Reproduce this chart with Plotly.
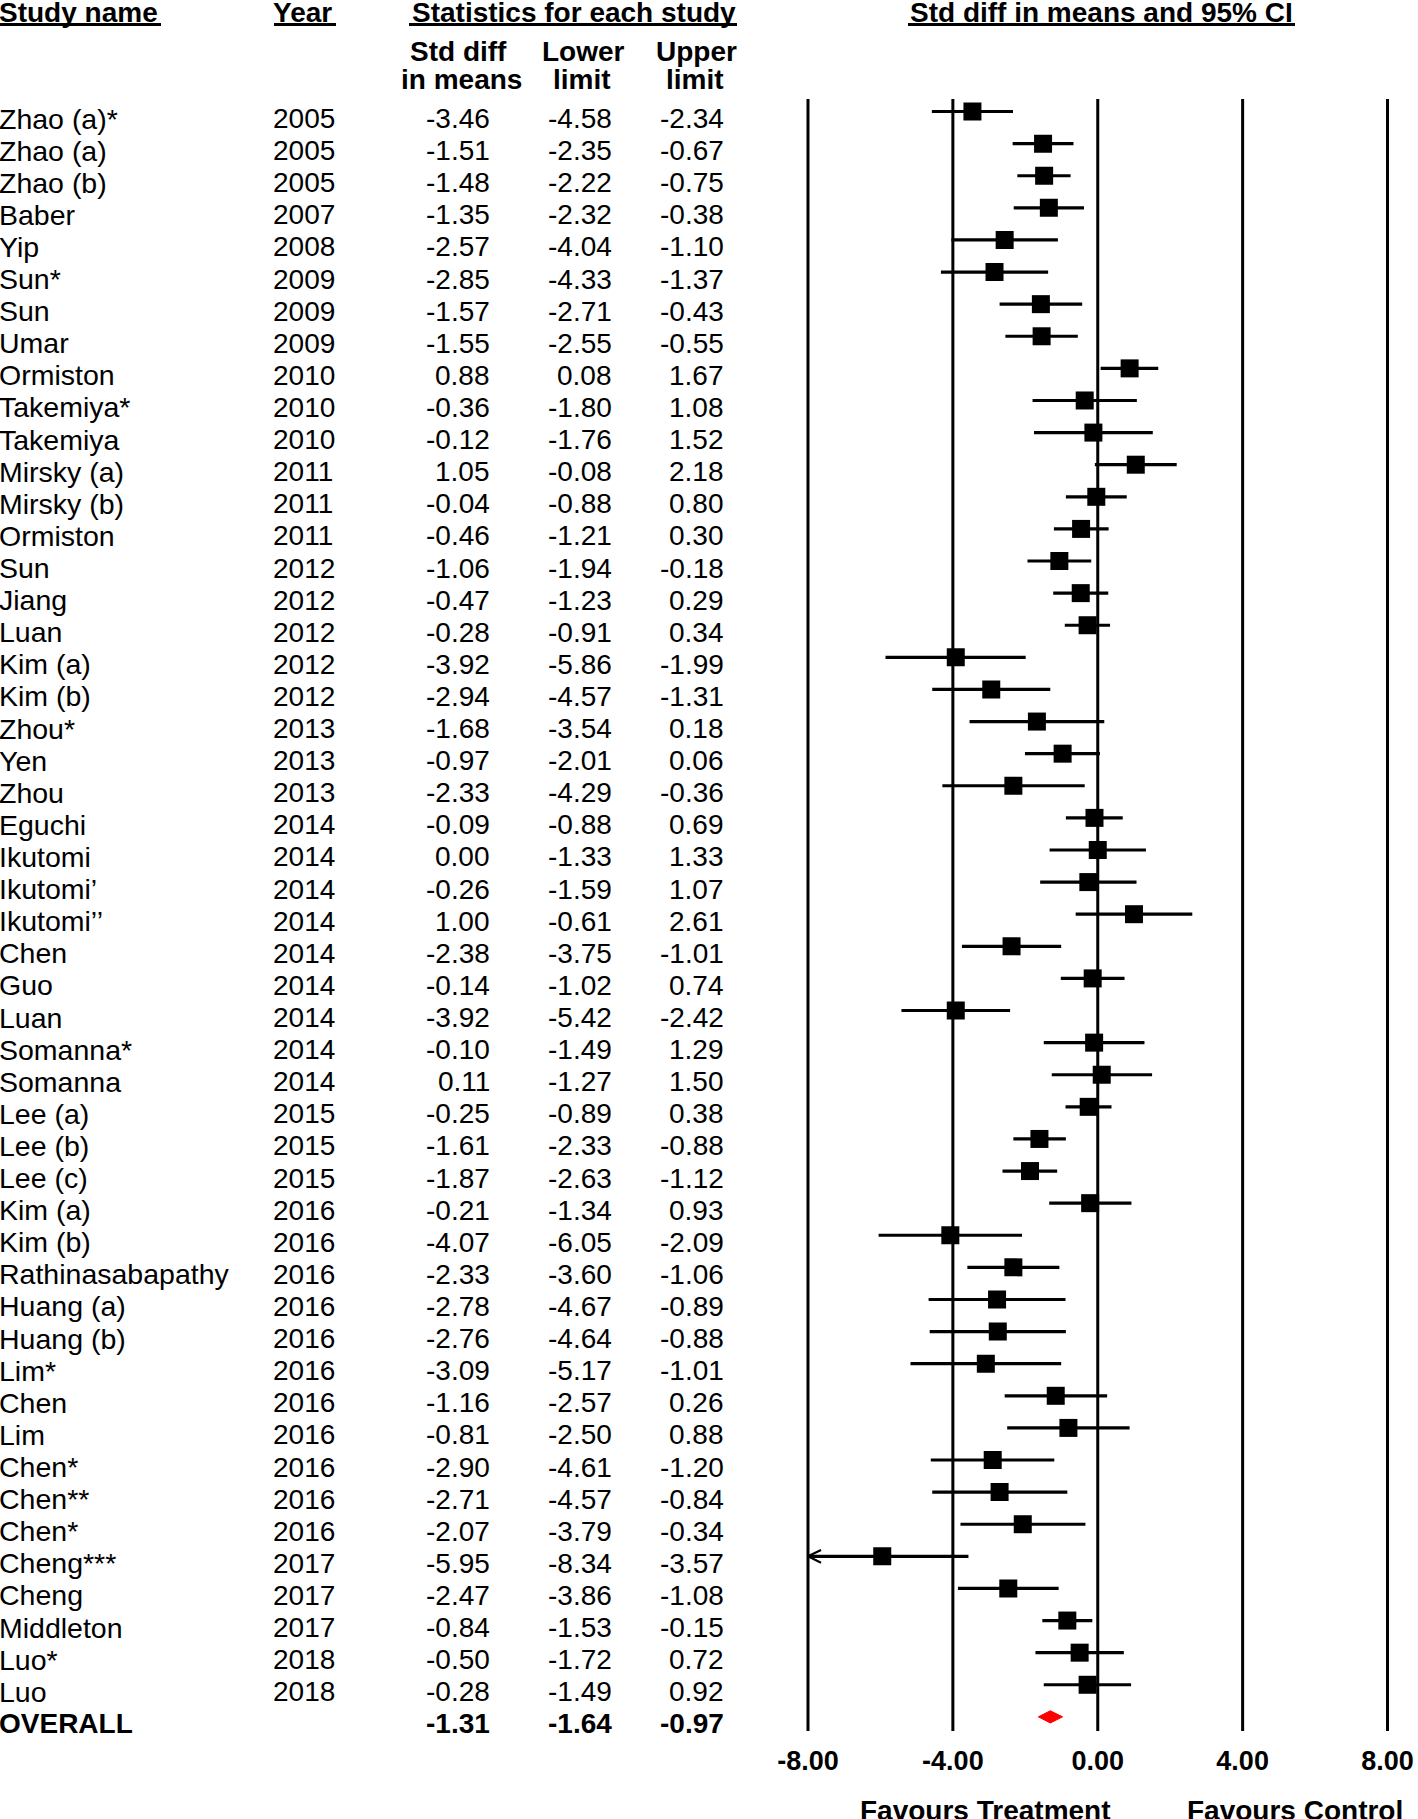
import plotly.graph_objects as go

studies = ["Zhao (a)*", "Zhao (a)", "Zhao (b)", "Baber", "Yip", "Sun*", "Sun", "Umar", "Ormiston",
           "Takemiya*", "Takemiya", "Mirsky (a)", "Mirsky (b)", "Ormiston", "Sun", "Jiang", "Luan",
           "Kim (a)", "Kim (b)", "Zhou*", "Yen", "Zhou", "Eguchi", "Ikutomi", "Ikutomi\u2019",
           "Ikutomi\u2019\u2019", "Chen", "Guo", "Luan", "Somanna*", "Somanna", "Lee (a)", "Lee (b)",
           "Lee (c)", "Kim (a)", "Kim (b)", "Rathinasabapathy", "Huang (a)", "Huang (b)", "Lim*",
           "Chen", "Lim", "Chen*", "Chen**", "Chen*", "Cheng***", "Cheng", "Middleton", "Luo*", "Luo"]
years = [2005, 2005, 2005, 2007, 2008, 2009, 2009, 2009, 2010, 2010, 2010, 2011, 2011, 2011, 2012,
         2012, 2012, 2012, 2012, 2013, 2013, 2013, 2014, 2014, 2014, 2014, 2014, 2014, 2014, 2014,
         2014, 2015, 2015, 2015, 2016, 2016, 2016, 2016, 2016, 2016, 2016, 2016, 2016, 2016, 2016,
         2017, 2017, 2017, 2018, 2018]
smd = [-3.46, -1.51, -1.48, -1.35, -2.57, -2.85, -1.57, -1.55, 0.88, -0.36, -0.12, 1.05, -0.04,
       -0.46, -1.06, -0.47, -0.28, -3.92, -2.94, -1.68, -0.97, -2.33, -0.09, 0.00, -0.26, 1.00,
       -2.38, -0.14, -3.92, -0.10, 0.11, -0.25, -1.61, -1.87, -0.21, -4.07, -2.33, -2.78, -2.76,
       -3.09, -1.16, -0.81, -2.90, -2.71, -2.07, -5.95, -2.47, -0.84, -0.50, -0.28]
lower = [-4.58, -2.35, -2.22, -2.32, -4.04, -4.33, -2.71, -2.55, 0.08, -1.80, -1.76, -0.08, -0.88,
         -1.21, -1.94, -1.23, -0.91, -5.86, -4.57, -3.54, -2.01, -4.29, -0.88, -1.33, -1.59, -0.61,
         -3.75, -1.02, -5.42, -1.49, -1.27, -0.89, -2.33, -2.63, -1.34, -6.05, -3.60, -4.67, -4.64,
         -5.17, -2.57, -2.50, -4.61, -4.57, -3.79, -8.34, -3.86, -1.53, -1.72, -1.49]
upper = [-2.34, -0.67, -0.75, -0.38, -1.10, -1.37, -0.43, -0.55, 1.67, 1.08, 1.52, 2.18, 0.80,
         0.30, -0.18, 0.29, 0.34, -1.99, -1.31, 0.18, 0.06, -0.36, 0.69, 1.33, 1.07, 2.61, -1.01,
         0.74, -2.42, 1.29, 1.50, 0.38, -0.88, -1.12, 0.93, -2.09, -1.06, -0.89, -0.88, -1.01, 0.26,
         0.88, -1.20, -0.84, -0.34, -3.57, -1.08, -0.15, 0.72, 0.92]
overall = {"label": "OVERALL", "smd": -1.31, "lower": -1.64, "upper": -0.97}
tick_vals = [-8, -4, 0, 4, 8]
tick_text = ["-8.00", "-4.00", "0.00", "4.00", "8.00"]

XMIN, XMAX = -8, 8
FONT = "Liberation Sans, Arial, sans-serif"
FS = 28
n = len(studies)
rows = list(range(n))
overall_row = n

W, H = 1418, 1819
ML, MR, MT, MB = 0, 16, 99, 88
plot_w = W - ML - MR
plot_h = H - MT - MB
left_px = 793.5
dom0 = left_px / plot_w

fig = go.Figure()

# CI lines (clipped to axis) + squares
lo_clip = [max(l, XMIN) for l in lower]
hi_clip = [min(u, XMAX) for u in upper]
fig.add_trace(go.Scatter(
    x=smd, y=rows, mode="markers",
    marker=dict(symbol="square", size=18, color="black", line=dict(width=0)),
    error_x=dict(type="data", symmetric=False,
                 array=[h - s for h, s in zip(hi_clip, smd)],
                 arrayminus=[s - l for s, l in zip(smd, lo_clip)],
                 thickness=3.2, width=0, color="black"),
    showlegend=False, hoverinfo="skip"))

# arrows for clipped lower limits
ax, ay = [], []
dx, dy = 0.36, 0.2
for r, l in zip(rows, lower):
    if l < XMIN:
        ax += [XMIN + dx, XMIN, XMIN + dx, None]
        ay += [r - dy, r, r + dy, None]
fig.add_trace(go.Scatter(x=ax, y=ay, mode="lines", line=dict(color="black", width=2.2),
                         showlegend=False, hoverinfo="skip"))

# overall diamond
hd = 0.19
fig.add_trace(go.Scatter(
    x=[overall["lower"], overall["smd"], overall["upper"], overall["smd"], overall["lower"]],
    y=[overall_row, overall_row - hd, overall_row, overall_row + hd, overall_row],
    mode="lines", fill="toself", fillcolor="#ff0000", line=dict(color="#ff0000", width=1),
    showlegend=False, hoverinfo="skip"))


def px(p):
    return (p - ML) / plot_w


def py(p):
    return (H - MB - p) / plot_h


shapes = []
for v in tick_vals:
    shapes.append(dict(type="line", xref="x", yref="paper", x0=v, x1=v, y0=0, y1=1,
                       line=dict(color="black", width=3), layer="below"))
# header underlines
for a, b in [(0, 161), (274, 336), (409, 737), (908, 1295)]:
    shapes.append(dict(type="line", xref="paper", yref="paper", x0=px(a), x1=px(b),
                       y0=py(24.5), y1=py(24.5), line=dict(color="black", width=3)))

ann = []
def txt(x, y, s, anchor="left", bold=False, yref="y", xref="paper", yshift=0, size=FS):
    if bold:
        s = "<b>" + s + "</b>"
    if xref == "paper":
        x = px(x)
    ann.append(dict(x=x, y=y, xref=xref, yref=yref, text=s, showarrow=False,
                    xanchor=anchor, yanchor="middle", yshift=yshift,
                    font=dict(family=FONT, size=size, color="black")))

col_name, col_year, col_smd, col_lo, col_hi = -3, 271, 492, 614, 726
for r in rows:
    txt(col_name, r, studies[r], "left", yshift=-7, size=28.5)
    txt(col_year, r, str(years[r]), "left", yshift=-7)
    txt(col_smd, r, f"{smd[r]:.2f}", "right", yshift=-7)
    txt(col_lo, r, f"{lower[r]:.2f}", "right", yshift=-7)
    txt(col_hi, r, f"{upper[r]:.2f}", "right", yshift=-7)
txt(col_name, overall_row, overall["label"], "left", bold=True, yshift=-7)
txt(col_smd, overall_row, f"{overall['smd']:.2f}", "right", bold=True, yshift=-7)
txt(col_lo, overall_row, f"{overall['lower']:.2f}", "right", bold=True, yshift=-7)
txt(col_hi, overall_row, f"{overall['upper']:.2f}", "right", bold=True, yshift=-7)

txt(col_name, py(13), "Study name", "left", bold=True, yref="paper")
txt(col_year, py(13), "Year", "left", bold=True, yref="paper")
txt(574, py(13), "Statistics for each study", "center", bold=True, yref="paper")
txt(0.1, py(13), "Std diff in means and 95% CI", "center", bold=True, yref="paper", xref="x")
txt(458, py(51), "Std diff", "center", bold=True, yref="paper")
txt(461, py(79), "in means", "center", bold=True, yref="paper")
txt(583, py(51), "Lower", "center", bold=True, yref="paper")
txt(582, py(79), "limit", "center", bold=True, yref="paper")
txt(696, py(51), "Upper", "center", bold=True, yref="paper")
txt(695, py(79), "limit", "center", bold=True, yref="paper")
txt(-3.1, py(1810), "Favours Treatment", "center", bold=True, yref="paper", xref="x")
txt(5.45, py(1810), "Favours Control", "center", bold=True, yref="paper", xref="x")

fig.update_layout(
    width=W, height=H, margin=dict(l=ML, r=MR, t=MT, b=MB, autoexpand=False),
    plot_bgcolor="white", paper_bgcolor="white",
    shapes=shapes, annotations=ann,
    xaxis=dict(domain=[dom0, 1], range=[-8.4, 8.4], tickvals=tick_vals,
               ticktext=["<b>" + t + "</b>" for t in tick_text],
               tickfont=dict(family=FONT, size=27, color="black"),
               showgrid=False, zeroline=False, showline=False, ticks="",
               ticklabelstandoff=11, automargin=False, fixedrange=True),
    yaxis=dict(range=[n + 0.44, -0.39], visible=False, fixedrange=True, automargin=False),
)

fig.write_html("out.html", config={"displayModeBar": False},
               post_script="document.body.style.margin='0px';document.body.style.overflow='hidden';")
